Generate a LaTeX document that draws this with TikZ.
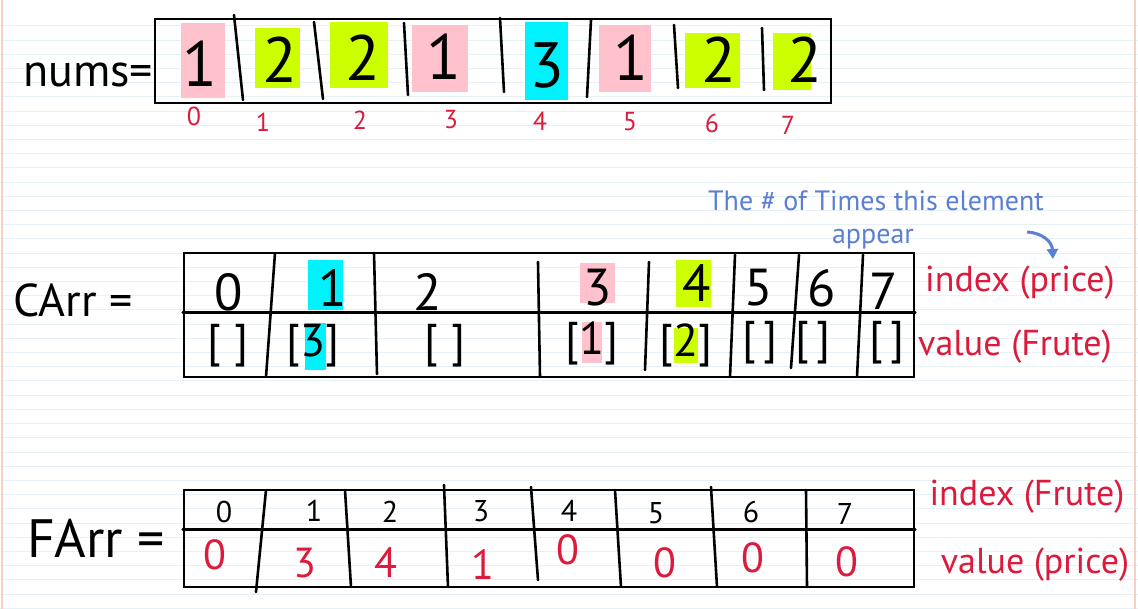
\documentclass[tikz,border=0pt]{standalone}
\usepackage{fontspec}
\setmainfont{PT Sans}
\usetikzlibrary{arrows.meta}

\definecolor{InkRed}{HTML}{DC1A3C}
\definecolor{InkBlue}{HTML}{5A7FD4}
\definecolor{HlPink}{HTML}{FFC2CC}
\definecolor{HlYellow}{HTML}{CCFF00}
\definecolor{HlCyan}{HTML}{00F2FF}
\definecolor{RuleBlue}{HTML}{E6F1F6}
\definecolor{MarginPink}{HTML}{F8CFC4}

\begin{document}
\begin{tikzpicture}[x=1pt,y=-1pt]

      \tikzstyle{PaperLine} = [RuleBlue, line width=1pt]
      \tikzstyle{ArrBox} = [rectangle, draw=black, line width=2.6pt, inner sep=0pt]
      \tikzstyle{Divider} = [black, line width=2.6pt, line cap=round]
      \tikzstyle{NumDigit} = [inner sep=0pt, font=\fontsize{64}{64}\selectfont]
      \tikzstyle{IdxLabel} = [inner sep=0pt, text=InkRed, font=\fontsize{26}{26}\selectfont]
      \tikzstyle{CellTop} = [inner sep=0pt, font=\fontsize{52}{52}\selectfont]
      \tikzstyle{CellBottom} = [inner sep=0pt, font=\fontsize{46}{46}\selectfont]
      \tikzstyle{FCellTop} = [inner sep=0pt, font=\fontsize{30}{30}\selectfont]
      \tikzstyle{FCellBottom} = [inner sep=0pt, text=InkRed, font=\fontsize{42}{42}\selectfont]
      \tikzstyle{SideLabel} = [inner sep=0pt, text=InkRed, font=\fontsize{36}{36}\selectfont]
      \tikzstyle{ArrName} = [inner sep=0pt, font=\fontsize{46}{46}\selectfont]
      \tikzstyle{NoteText} = [inner sep=0pt, text=InkBlue, font=\fontsize{28}{28}\selectfont]
      \tikzstyle{NoteArrow} = [InkBlue, line width=3pt, -{Triangle[length=10pt,width=11pt]}]

      \useasboundingbox (0,0) rectangle (1138,609);
      \fill [white] (0,0) rectangle (1138,609);
      \foreach \k in {0,...,41}
        \draw [PaperLine] (0,26+14.2*\k) -- (1138,26+14.2*\k);
      \draw [MarginPink, line width=2pt] (2,0) -- (2,609);
      \draw [MarginPink, line width=2pt] (1135,0) -- (1135,609);

      % nums
      \fill [HlPink] (181,23) rectangle (225,98);
      \fill [HlYellow] (255,28) rectangle (300,88);
      \fill [HlYellow] (330,22) rectangle (388,88);
      \fill [HlPink] (412,25) rectangle (468,92);
      \fill [HlCyan] (525,22) rectangle (568,100);
      \fill [HlPink] (599,25) rectangle (651,92);
      \fill [HlYellow] (685,33) rectangle (740,88);
      \fill [HlYellow] (773,33) rectangle (811,90);

      \node (NumsName) [ArrName] at (88,75) {nums=};
      \node (NumsBox) [ArrBox, minimum width=676, minimum height=84] at (493,61) {};
      \draw [Divider] (234,15) -- (243,100);
      \draw [Divider] (314,22) -- (323,99);
      \draw [Divider] (404,23) -- (408,95);
      \draw [Divider] (500,18) -- (504,92);
      \draw [Divider] (591,20) -- (587,97);
      \draw [Divider] (674,25) -- (678,88);
      \draw [Divider] (762,28) -- (764,90);

      \node (Num0) [NumDigit] at (200,64) {1};
      \node (Num1) [NumDigit] at (280,60) {2};
      \node (Num2) [NumDigit] at (363,58) {2};
      \node (Num3) [NumDigit] at (444,57) {1};
      \node (Num4) [NumDigit] at (547,65) {3};
      \node (Num5) [NumDigit] at (631,58) {1};
      \node (Num6) [NumDigit] at (719,60) {2};
      \node (Num7) [NumDigit] at (805,60) {2};

      \node (NumIdx0) [IdxLabel] at (194,116) {0};
      \node (NumIdx1) [IdxLabel] at (263,122) {1};
      \node (NumIdx2) [IdxLabel] at (360,120) {2};
      \node (NumIdx3) [IdxLabel] at (451,120) {3};
      \node (NumIdx4) [IdxLabel] at (540,121) {4};
      \node (NumIdx5) [IdxLabel] at (630,122) {5};
      \node (NumIdx6) [IdxLabel] at (712,123) {6};
      \node (NumIdx7) [IdxLabel] at (788,125) {7};

      % CArr
      \node (NoteTop) [NoteText] at (876,201) {The \# of Times this element};
      \node (NoteBottom) [NoteText] at (873,239) {appear};
      \coordinate (ArrowTail) at (1027,232);

      \fill [HlCyan] (308,260) rectangle (343,310);
      \fill [HlPink] (580,263) rectangle (615,303);
      \fill [HlYellow] (676,260) rectangle (711,307);
      \fill [HlCyan] (305,323) rectangle (326,370);
      \fill [HlPink] (582,322) rectangle (602,363);
      \fill [HlYellow] (674,328) rectangle (698,363);

      \node (CArrName) [ArrName] at (73,300) {CArr =};
      \node (CArrBox) [ArrBox, minimum width=730, minimum height=124] at (549,315) {};
      \draw [Divider] ([yshift=-61pt]CArrBox.north west) -- ([yshift=-61pt]CArrBox.north east);
      \draw [Divider] (275,253) -- (266,377);
      \draw [Divider] (374,253) -- (377,374);
      \draw [Divider] (538,262) -- (540,377);
      \draw [Divider] (649,262) -- (645,370);
      \draw [Divider] (735,255) -- (730,377);
      \draw [Divider] (799,255) -- (791,368);
      \draw [Divider] (863,255) -- (857,377);

      \node (CIdx0) [CellTop] at (229,292) {0};
      \node (CIdx1) [CellTop] at (333,288) {1};
      \node (CIdx2) [CellTop] at (428,292) {2};
      \node (CIdx3) [CellTop] at (598,288) {3};
      \node (CIdx4) [CellTop] at (697,283) {4};
      \node (CIdx5) [CellTop] at (759,288) {5};
      \node (CIdx6) [CellTop] at (822,288) {6};
      \node (CIdx7) [CellTop] at (884,291) {7};

      \node (CVal0) [CellBottom] at (228,346) {[ ]};
      \node (CVal1) [CellBottom] at (313,346) {[3]};
      \node (CVal2) [CellBottom] at (445,346) {[ ]};
      \node (CVal3) [CellBottom] at (592,343) {[1]};
      \node (CVal4) [CellBottom] at (686,345) {[2]};
      \node (CVal5) [CellBottom] at (760,343) {[\,]};
      \node (CVal6) [CellBottom] at (813,343) {[\,]};
      \node (CVal7) [CellBottom] at (887,343) {[\,]};

      \node (CIdxLabel) [SideLabel] at (1020,283) {index (price)};
      \node (CValLabel) [SideLabel] at (1015,347) {value (Frute)};

      \draw [NoteArrow] (ArrowTail) .. controls (1043,233) and (1052,242) .. ([xshift=33pt,yshift=7pt]CIdxLabel.north);

      % FArr
      \node (FArrName) [ArrName, font=\fontsize{54}{54}\selectfont] at (96,538) {FArr =};
      \node (FArrBox) [ArrBox, minimum width=730, minimum height=97] at (549,538.5) {};
      \draw [Divider] ([yshift=-41pt]FArrBox.north west) -- ([yshift=-41pt]FArrBox.north east);
      \draw [Divider] (266,490) -- (256,592);
      \draw [Divider] (345,490) -- (351,587);
      \draw [Divider] (444,485) -- (448,587);
      \draw [Divider] (531,487) -- (538,580);
      \draw [Divider] (615,490) -- (621,587);
      \draw [Divider] (711,487) -- (717,587);
      \draw [Divider] (806,490) -- (807,587);

      \node (FIdx0) [FCellTop] at (224,512) {0};
      \node (FIdx1) [FCellTop] at (314,511) {1};
      \node (FIdx2) [FCellTop] at (390,512) {2};
      \node (FIdx3) [FCellTop] at (481,511) {3};
      \node (FIdx4) [FCellTop] at (569,511) {4};
      \node (FIdx5) [FCellTop] at (656,513) {5};
      \node (FIdx6) [FCellTop] at (751,512) {6};
      \node (FIdx7) [FCellTop] at (845,514) {7};

      \node (FVal0) [FCellBottom] at (215,555) {0};
      \node (FVal1) [FCellBottom] at (305,563) {3};
      \node (FVal2) [FCellBottom] at (386,563) {4};
      \node (FVal3) [FCellBottom] at (483,565) {1};
      \node (FVal4) [FCellBottom] at (568,550) {0};
      \node (FVal5) [FCellBottom] at (665,563) {0};
      \node (FVal6) [FCellBottom] at (753,558) {0};
      \node (FVal7) [FCellBottom] at (847,562) {0};

      \node (FIdxLabel) [SideLabel] at (1027,497) {index (Frute)};
      \node (FValLabel) [SideLabel] at (1035,565) {value (price)};

    \end{tikzpicture}
\end{document}
